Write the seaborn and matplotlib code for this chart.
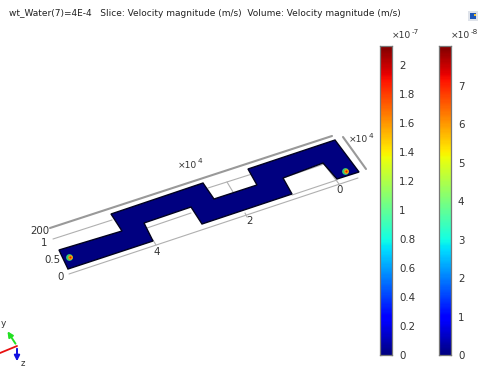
"""COMSOL style slice plot rebuilt with seaborn colour bars."""
import numpy as np
import matplotlib
matplotlib.use("Agg")
import matplotlib.pyplot as plt
import seaborn as sns

TITLE = "wt_Water(7)=4E-4   Slice: Velocity magnitude (m/s)  Volume: Velocity magnitude (m/s)"

channel_x = [59, 122, 111, 203, 214, 257, 248, 335, 359, 337, 323, 283, 292, 202, 191, 144, 153, 68]
channel_y = [250, 231, 214, 183, 199, 185, 169, 140, 172, 179, 163, 178, 194, 224, 207, 223, 241, 269]

# inlet / outlet spots
spot_x = [69, 345]
spot_y = [257, 171]

# bounding box lines: (x0, y0, x1, y1)
thick_lines = [(50, 228, 332, 136), (343, 137, 366, 169)]
thin_lines = [
    (69, 274, 358, 178), (53, 239, 112, 220), (208, 188, 252, 174),
    (283, 178, 324, 164), (147, 228, 191, 213), (292, 195, 337, 180),
    (227, 182, 233, 192), (324, 164, 339, 184), (153, 240, 156, 245),
    (245, 213, 247, 217),
]

# axis labels
axis_labels = [
    ("200", 40, 231), ("1", 44, 243), ("0.5", 52, 260), ("0", 61, 277),
    ("4", 157, 252), ("2", 250, 221), ("0", 340, 190),
]

# colour bars
bar1_ticks = [0, 0.2, 0.4, 0.6, 0.8, 1, 1.2, 1.4, 1.6, 1.8, 2]
bar1_labels = ["0", "0.2", "0.4", "0.6", "0.8", "1", "1.2", "1.4", "1.6", "1.8", "2"]
bar1_max = 2.13
bar2_ticks = [0, 1, 2, 3, 4, 5, 6, 7]
bar2_labels = ["0", "1", "2", "3", "4", "5", "6", "7"]
bar2_max = 8.03

W, H = 478, 369
TEXT = "#333333"

sns.set_style("white")
plt.rcParams["font.family"] = ["DejaVu Sans"]

fig = plt.figure(figsize=(W / 100, H / 100), dpi=100)
ax = fig.add_axes([0, 0, 1, 1])
ax.set_xlim(0, W)
ax.set_ylim(H, 0)
ax.axis("off")

ax.text(9, 14, TITLE, fontsize=6.53, color="#222222", va="center", ha="left")

for x0, y0, x1, y1 in thin_lines:
    ax.plot([x0, x1], [y0, y1], color="#b0b0b0", lw=0.8, zorder=1)
for x0, y0, x1, y1 in thick_lines:
    ax.plot([x0, x1], [y0, y1], color="#999999", lw=1.5, zorder=1)

ax.fill(channel_x, channel_y, facecolor="#000080", edgecolor="#02021f", lw=1.0, zorder=2)

ax.scatter(spot_x, spot_y, s=24, color="#30c878", lw=0, zorder=3)
ax.scatter([x + 0.6 for x in spot_x], spot_y, s=11, color="#ff9a00", lw=0, zorder=4)
ax.scatter([x + 0.6 for x in spot_x], spot_y, s=2, color="#e02000", lw=0, zorder=5)

for label, x, y in axis_labels:
    ax.text(x, y, label, fontsize=7.4, color=TEXT, ha="center", va="center")


def exponent_label(x, y, power):
    # x10 and its power as two texts, mathtext spaces the minus too wide
    ax.text(x, y, "\u00d710", fontsize=6.6, color=TEXT, ha="left", va="center")
    ax.text(x + 19.5, y - 4, power, fontsize=5.2, color=TEXT, ha="left", va="center")


exponent_label(178, 165, "4")
exponent_label(349, 140, "4")

# axis triad
ax.annotate("", xy=(6, 329), xytext=(17, 346), zorder=5,
            arrowprops=dict(arrowstyle="-|>", color="#22e022", lw=1.4, mutation_scale=8))
ax.annotate("", xy=(17, 364), xytext=(17, 346), zorder=5,
            arrowprops=dict(arrowstyle="-|>", color="#1010e0", lw=1.4, mutation_scale=8))
ax.plot([0, 17], [353, 346], color="#e81010", lw=1.3, zorder=5)
ax.text(3, 323, "y", fontsize=6.5, color=TEXT, ha="center", va="center")
ax.text(23, 363, "z", fontsize=6.0, color=TEXT, ha="center", va="center")

# toolbar icon in the corner
ax.scatter([473], [16], s=42, marker="s", color="#dfe3ea", lw=0, zorder=2)
ax.scatter([473], [16], s=16, marker="s", color="#1f57b8", lw=0, zorder=3)
ax.scatter([475], [15], s=4, marker="s", color="#f2c230", lw=0, zorder=4)


def colour_bar(left, width, top, bottom, ticks, labels, vmax, power):
    cax = fig.add_axes([left / W, 1 - bottom / H, width / W, (bottom - top) / H])
    n = 256
    grad = np.linspace(vmax, 0, n).reshape(-1, 1)
    sns.heatmap(grad, ax=cax, cmap="jet", cbar=False, vmin=0, vmax=vmax,
                xticklabels=False, yticklabels=False)
    cax.set_yticks([n * (1 - t / vmax) for t in ticks])
    cax.set_yticklabels(labels, rotation=0, fontsize=7.4, color=TEXT)
    cax.yaxis.tick_right()
    cax.tick_params(axis="y", left=True, right=True, direction="in", length=1.5,
                    width=0.8, color="#111111", pad=5)
    for spine in cax.spines.values():
        spine.set_visible(True)
        spine.set_color("#777777")
        spine.set_linewidth(0.9)
    exponent_label(left + width, top - 10, power)


colour_bar(380, 12, 46, 355, bar1_ticks, bar1_labels, bar1_max, "-7")
colour_bar(439, 12, 46, 355, bar2_ticks, bar2_labels, bar2_max, "-8")

fig.savefig("out.png", dpi=100, facecolor="white")
